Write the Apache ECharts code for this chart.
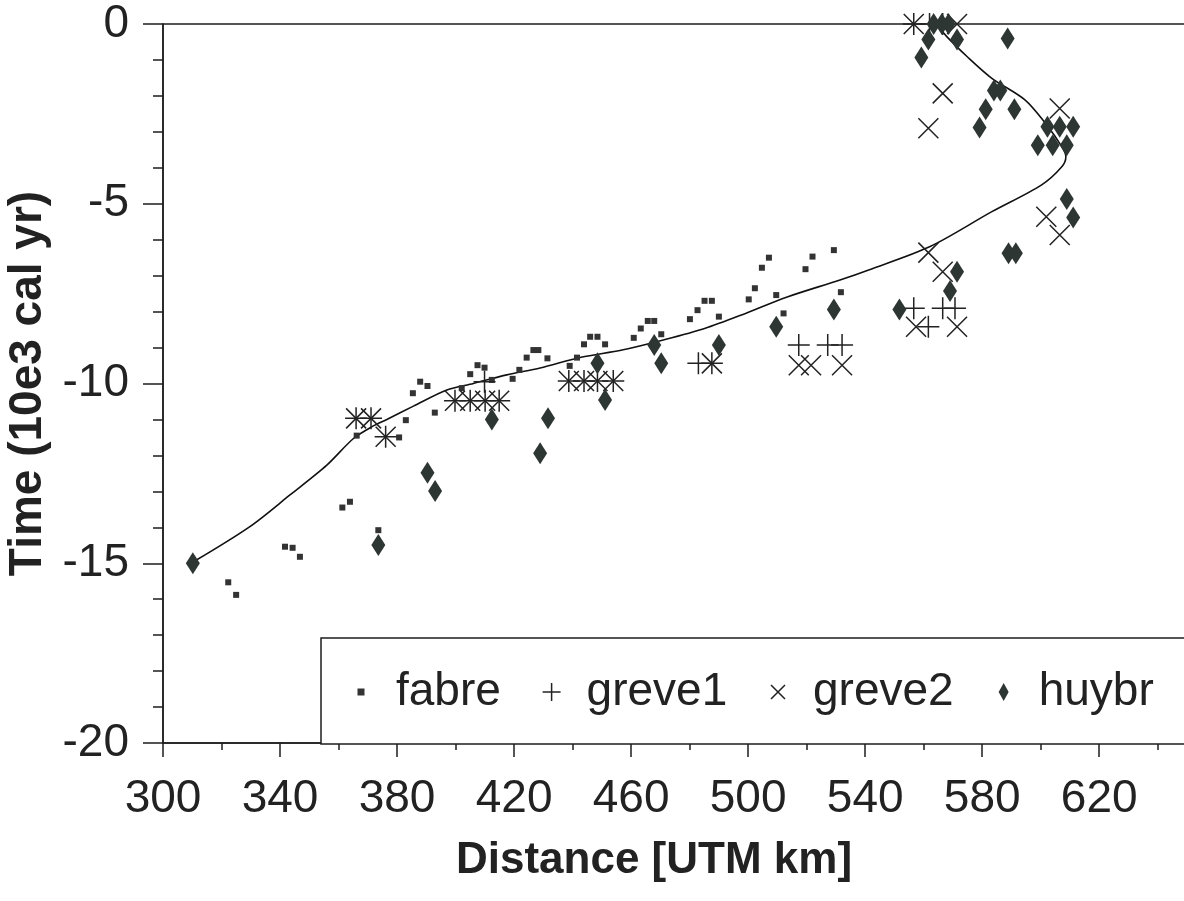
<!DOCTYPE html>
<html>
<head>
<meta charset="utf-8">
<script src="https://cdn.jsdelivr.net/npm/echarts@6/dist/echarts.min.js"></script>
<style>
html,body{margin:0;padding:0;background:#fff;}
#chart{width:1184px;height:901px;}
</style>
</head>
<body>
<div id="chart"></div>
<script>
// ---- data ----
var fabre = [
  [322.3,-15.53],[325,-15.88],
  [341.7,-14.54],[344.3,-14.57],[346.8,-14.82],
  [361.3,-13.45],[363.9,-13.29],[373.6,-14.08],
  [366.2,-11.45],[380.7,-11.5],
  [383,-11.02],[385.4,-10.27],[387.9,-9.95],[390.4,-10.07],[392.9,-10.81],
  [402.1,-10.13],[405,-9.74],[407.5,-9.49],[409.9,-9.56],[412.4,-9.9],
  [419.5,-9.87],[421.8,-9.62],[424.3,-9.28],[426.6,-9.07],[428.3,-9.07],
  [431.4,-9.3],[439,-9.51],[441.5,-9.28],[443.9,-8.91],[446,-8.7],[448.5,-8.7],[451.1,-8.91],
  [460.9,-8.73],[463.3,-8.47],[465.7,-8.26],[467.9,-8.26],[470.3,-8.63],
  [480.1,-8.21],[482.7,-7.96],[485.1,-7.7],[487.6,-7.7],[490,-8.14],
  [500.2,-7.66],[502.3,-7.35],[504.7,-6.78],[507.1,-6.5],[509.6,-7.54],[512.1,-8.05],
  [519.6,-6.82],[522,-6.47],[529.3,-6.29],[531.7,-7.46]
];
var greve1 = [
  [366,-10.97],[371.1,-10.97],[376.1,-11.48],
  [399.8,-10.48],[405,-10.48],[410.1,-10.48],[414.9,-10.48],[409.9,-9.95],
  [438.7,-9.93],[443.9,-9.93],[448.5,-9.93],[453.9,-9.93],
  [483,-9.44],[487.6,-9.44],
  [517.3,-8.93],[527.2,-8.93],[532.1,-8.93],
  [556.6,-7.91],[566.5,-7.91],[570.7,-7.91],[561.6,-8.42],
  [556.6,0],[562,0],[566.5,0]
];
var greve2 = [
  [366,-10.97],[371.1,-10.97],[376.1,-11.48],
  [399.8,-10.48],[405,-10.48],[410.1,-10.48],[414.9,-10.48],
  [438.7,-9.93],[443.9,-9.93],[448.5,-9.93],[453.9,-9.93],
  [487.6,-9.44],
  [517.3,-9.49],[521.5,-9.49],[532.1,-9.49],
  [557.4,-8.42],[571.4,-8.42],
  [561.6,-6.36],[566.5,-6.89],
  [601.9,-5.36],[606.5,-5.87],
  [561.6,-2.9],[566.5,-1.93],[606.5,-2.35],
  [556.6,0],[571.4,0]
];
var huybr = [
  [310.2,-15.0],[373.6,-14.49],[390.4,-12.48],[393,-12.99],[412.4,-11.0],[428.9,-11.94],[431.6,-10.97],
  [448.5,-9.44],[451.1,-10.46],[467.9,-8.93],[470.3,-9.44],[490,-8.93],[509.6,-8.42],[529.3,-7.94],
  [551.7,-7.94],[569,-7.43],[571.4,-6.89],
  [589,-6.38],[591.5,-6.38],[608.9,-4.87],[611.1,-5.38],
  [599,-3.37],[604.1,-3.37],[608.9,-3.37],[602.3,-2.86],[606.5,-2.86],[611.1,-2.86],
  [579.1,-2.88],[581.2,-2.37],[591,-2.37],[584,-1.85],[586.2,-1.85],
  [559.2,-0.93],[561.6,-0.43],[571.4,-0.43],[588.7,-0.4],
  [563.4,0],[566.2,0],[568.5,0]
];
var fitCurve = [
  [310.4,-14.96],[329.7,-13.98],[343.4,-13.1],[356,-12.27],[365.1,-11.53],[371.9,-11.18],
  [376.5,-11.0],[385.6,-10.63],[397,-10.18],[406.1,-10.0],[417.5,-9.76],[428.9,-9.57],
  [442.9,-9.27],[456.9,-9.07],[471,-8.79],[485.1,-8.47],[499.1,-8.05],[513.1,-7.6],
  [531.4,-7.12],[541.2,-6.84],[562.2,-6.19],[583.3,-5.22],[600.2,-4.48],[607.2,-3.97],
  [608.6,-3.69],[607.2,-3.41],[601.6,-2.76],[594.6,-2.11],[583.3,-1.51],[574.9,-0.91],
  [567.9,-0.35],[564.4,0]
];
var seriesNames = ['fabre','greve1','greve2','huybr'];
var xMajorTicks = [300,340,380,420,460,500,540,580,620];
var xMinorTicks = [320,360,400,440,480,520,560,600,640];
var xTitle = 'Distance [UTM km]';
var yTitle = 'Time (10e3 cal yr)';

// ---- chart ----
var FONT = '"Liberation Sans", Arial, Helvetica, sans-serif';
var INK = '#1e1e1e';
var PLUS = 'path://M10,0 L10,20 M0,10 L20,10';
var CROSS = 'path://M0,0 L20,20 M20,0 L0,20';
var chart = echarts.init(document.getElementById('chart'), null, {renderer:'canvas'});
var option = {
  backgroundColor: '#fff',
  animation: false,
  grid: {left:163, top:24, width:1024, height:719, show:true, borderColor:INK, borderWidth:1.5,
         backgroundColor:'transparent', outerBoundsMode:'none', containLabel:false},
  xAxis: [{
    type:'value', min:300, max:650, position:'bottom',
    axisLine:{show:true, onZero:false, lineStyle:{color:INK, width:1.5}},
    axisTick:{show:true, length:14, customValues:xMajorTicks, lineStyle:{color:INK, width:1.5}},
    axisLabel:{customValues:xMajorTicks, fontSize:46, lineHeight:46, margin:33, color:'#222', fontFamily:FONT},
    splitLine:{show:false},
    name:xTitle, nameLocation:'middle', nameGap:96,
    nameTextStyle:{fontSize:44, fontWeight:'bold', color:'#222', fontFamily:FONT, padding:[0,42,0,0]}
  },{
    type:'value', min:300, max:650, position:'top', offset:-719,
    axisLine:{show:false},
    axisTick:{show:true, inside:true, length:7, customValues:xMinorTicks, lineStyle:{color:INK, width:1.5}},
    axisLabel:{show:false},
    splitLine:{show:false}
  }],
  yAxis: {
    type:'value', min:-20, max:0, interval:5,
    axisLine:{show:true, onZero:false, lineStyle:{color:INK, width:1.5}},
    axisTick:{show:true, length:20, lineStyle:{color:INK, width:1.5}},
    minorTick:{show:true, splitNumber:5, length:10, lineStyle:{color:INK, width:1.5}},
    axisLabel:{fontSize:46, margin:34, color:'#222', fontFamily:FONT, padding:[5,0,0,0]},
    splitLine:{show:false},
    name:yTitle, nameLocation:'middle', nameGap:104,
    nameTextStyle:{fontSize:46, fontWeight:'bold', color:'#222', fontFamily:FONT}
  },
  legend: {
    show:true, orient:'horizontal', left:321, top:638, width:1100,
    padding:[29,140,27,30], itemGap:40, itemWidth:40, itemHeight:20,
    backgroundColor:'#fff', borderColor:INK, borderWidth:1.5, borderRadius:0,
    selectedMode:false,
    textStyle:{fontSize:46, lineHeight:50, color:'#222', fontFamily:FONT},
    data:[
      {name:'fabre', icon:'path://M0,0 M40,20 M6.5,6.5 L13.5,6.5 L13.5,13.5 L6.5,13.5 Z', itemStyle:{color:'#333', borderWidth:0}},
      {name:'greve1', icon:'path://M0,0 M40,20 M10,1 L10,19 M1,10 L19,10', itemStyle:{color:'#222', borderColor:'#222', borderWidth:1.5}},
      {name:'greve2', icon:'path://M0,0 M40,20 M3,3 L17,17 M17,3 L3,17', itemStyle:{color:'#222', borderColor:'#222', borderWidth:1.5}},
      {name:'huybr', icon:'path://M0,0 M40,20 M10,1 L15,10 L10,19 L5,10 Z', itemStyle:{color:'#2d3633', borderWidth:0}}
    ]
  },
  series: [
    {name:'fit', type:'line', data:fitCurve, smooth:0.3, showSymbol:false, symbol:'none',
     lineStyle:{color:'#111', width:1.6}, z:1, silent:true},
    {name:seriesNames[0], type:'scatter', data:fabre, symbol:'rect', symbolSize:6,
     itemStyle:{color:'#333', opacity:1}, z:3},
    {name:seriesNames[1], type:'scatter', data:greve1, symbol:PLUS, symbolSize:22,
     itemStyle:{color:'#222', borderColor:'#222', borderWidth:1.5, opacity:1}, z:3},
    {name:seriesNames[2], type:'scatter', data:greve2, symbol:CROSS, symbolSize:20,
     itemStyle:{color:'#222', borderColor:'#222', borderWidth:1.5, opacity:1}, z:3},
    {name:seriesNames[3], type:'scatter', data:huybr, symbol:'diamond', symbolSize:[14,22],
     itemStyle:{color:'#2d3633', opacity:1}, z:4}
  ]
};
chart.setOption(option);
</script>
</body>
</html>
